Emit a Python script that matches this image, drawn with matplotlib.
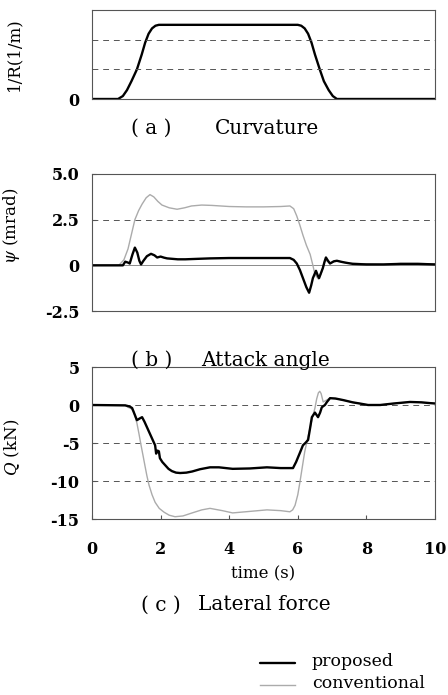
import matplotlib
matplotlib.use("Agg")
import matplotlib.pyplot as plt

plt.rcParams["axes.unicode_minus"] = False
plt.rcParams["mathtext.fontset"] = "dejavuserif"

# curvature of the curve section (1/R)
t_curv = [0, 0.76, 0.9, 1.02, 1.15, 1.31, 1.45, 1.55, 1.65, 1.75, 1.85, 1.95,
          6.0, 6.1, 6.2, 6.3, 6.4, 6.5, 6.64, 6.76, 6.9, 7.02, 7.14, 10]
curv = [0, 0, 0.1, 0.3, 0.6, 1.0, 1.5, 1.9, 2.2, 2.38, 2.47, 2.5,
        2.5, 2.47, 2.38, 2.2, 1.9, 1.5, 1.0, 0.6, 0.3, 0.1, 0, 0]

# attack angle psi (mrad)
t_psi_conv = [0, 0.78, 0.93, 1.05, 1.15, 1.25, 1.36, 1.46, 1.58, 1.69, 1.8, 1.92,
              2.04, 2.25, 2.48, 2.7, 2.9, 3.2, 3.5, 4.0, 4.5, 5.0, 5.5, 5.77,
              5.88, 5.97, 6.06, 6.15, 6.25, 6.36, 6.44, 6.5, 6.6, 6.67, 6.73,
              6.8, 6.87, 6.94, 7.05, 7.17, 7.3, 7.5, 8.0, 8.5, 9.0, 9.5, 10]
psi_conv = [0, 0, 0.3, 0.9, 1.7, 2.5, 3.0, 3.35, 3.7, 3.87, 3.75, 3.5,
            3.3, 3.15, 3.07, 3.15, 3.25, 3.3, 3.28, 3.22, 3.2, 3.2, 3.22, 3.25,
            3.1, 2.7, 2.2, 1.65, 1.1, 0.6, 0.0, -0.5, -0.75, -0.5, -0.15,
            0.3, 0.2, 0.1, 0.2, 0.25, 0.18, 0.12, 0.08, 0.05, 0.1, 0.1, 0.08]

t_psi_prop = [0, 0.9, 0.97, 1.05, 1.1, 1.18, 1.25, 1.32, 1.38, 1.43, 1.5, 1.6,
              1.72, 1.82, 1.9, 2.0, 2.1, 2.19, 2.5, 2.72, 3.0, 3.44, 4.0, 4.6,
              5.2, 5.77, 5.88, 5.97, 6.06, 6.15, 6.25, 6.33, 6.39, 6.44, 6.53,
              6.58, 6.62, 6.68, 6.73, 6.78, 6.82, 6.88, 6.94, 7.05, 7.14, 7.25,
              7.38, 7.6, 8.0, 8.5, 9.0, 9.5, 10]
psi_prop = [0, 0, 0.2, 0.15, 0.1, 0.6, 0.97, 0.7, 0.25, 0.05, 0.25, 0.5,
            0.63, 0.55, 0.43, 0.48, 0.42, 0.38, 0.33, 0.33, 0.35, 0.38, 0.4, 0.4,
            0.4, 0.4, 0.3, 0.1, -0.25, -0.7, -1.2, -1.5, -1.1, -0.7, -0.3,
            -0.55, -0.7, -0.4, -0.15, 0.2, 0.43, 0.25, 0.1, 0.22, 0.25, 0.2,
            0.15, 0.08, 0.05, 0.05, 0.08, 0.08, 0.05]

# lateral force Q (kN)
t_q_conv = [0, 0.97, 1.05, 1.15, 1.22, 1.31, 1.37, 1.43, 1.49, 1.54, 1.6, 1.66,
            1.75, 1.84, 1.96, 2.1, 2.25, 2.42, 2.65, 2.92, 3.2, 3.44, 3.8, 4.1,
            4.6, 5.1, 5.5, 5.77, 5.85, 5.92, 6.0, 6.06, 6.13, 6.2, 6.28, 6.36,
            6.43, 6.5, 6.55, 6.6, 6.64, 6.68, 6.74, 6.82, 6.94, 7.1, 7.32, 7.6,
            7.8, 8.05, 8.4, 8.8, 9.27, 9.6, 9.85, 10]
q_conv = [0, -0.05, -0.3, -0.5, -0.9, -2.4, -3.8, -5.3, -6.7, -7.9, -9.3, -10.5,
          -11.8, -12.8, -13.6, -14.1, -14.5, -14.7, -14.6, -14.2, -13.8, -13.6, -13.9, -14.2,
          -14.0, -13.8, -13.9, -14.05, -13.8, -13.2, -11.8, -10.2, -8.2, -6.2, -4.5, -3.0,
          -1.6, -0.4, 0.8, 1.6, 1.8, 1.5, 0.4, 0.6, 0.9, 0.85, 0.65, 0.35,
          0.2, 0.0, 0.0, 0.2, 0.4, 0.35, 0.25, 0.2]

t_q_prop = [0, 0.97, 1.1, 1.17, 1.24, 1.31, 1.38, 1.46, 1.53, 1.6, 1.68, 1.75,
            1.84, 1.87, 1.91, 1.95, 1.98, 2.05, 2.13, 2.23, 2.33, 2.45, 2.57, 2.75,
            2.92, 3.15, 3.44, 3.7, 4.1, 4.6, 5.1, 5.5, 5.86, 5.95, 6.06, 6.15,
            6.22, 6.3, 6.36, 6.41, 6.5, 6.59, 6.65, 6.7, 6.79, 6.85, 6.94, 7.1,
            7.32, 7.6, 7.8, 8.05, 8.4, 8.8, 9.27, 9.6, 9.85, 10]
q_prop = [0, -0.05, -0.2, -0.4, -1.2, -2.0, -1.8, -1.6, -2.2, -2.9, -3.7, -4.4,
          -5.3, -6.4, -6.0, -6.1, -7.0, -7.5, -7.9, -8.4, -8.7, -8.9, -8.95, -8.9,
          -8.75, -8.45, -8.2, -8.2, -8.4, -8.35, -8.2, -8.3, -8.3, -7.5, -6.3, -5.3,
          -5.0, -4.6, -3.0, -1.6, -1.0, -1.6, -1.0, -0.3, 0.0, 0.4, 0.9, 0.85,
          0.65, 0.35, 0.2, 0.0, 0.0, 0.2, 0.4, 0.35, 0.25, 0.2]

x_ticks = [0, 2, 4, 6, 8, 10]

W, H = 448, 695
FONT = "DejaVu Serif"
PROP = dict(color="black", lw=1.7, solid_capstyle="round")
CONV = dict(color="#ababab", lw=1.0)
GRID = dict(color="#555555", lw=0.7, dashes=(6, 5))
LABEL_X = (22 - 92) / 343


def px_axes(fig, left, top, right, bottom):
    return fig.add_axes([left / W, 1 - bottom / H, (right - left) / W, (bottom - top) / H])


def style(ax):
    for s in ax.spines.values():
        s.set_color("#555555")
        s.set_linewidth(0.8)
    ax.set_xlim(0, 10)
    ax.tick_params(direction="in", length=3, width=0.8, color="#555555",
                   labelsize=11.5, pad=9)
    for lab in ax.get_yticklabels() + ax.get_xticklabels():
        lab.set_fontfamily(FONT)
        lab.set_fontweight("semibold")


def ylabel(ax, text, y=0.5):
    ax.set_ylabel(text, family=FONT, fontsize=12)
    ax.yaxis.set_label_coords(LABEL_X, y)


def caption(fig, x_tag, x_title, y, tag, title):
    kw = dict(family=FONT, fontsize=14.5, va="center", ha="left")
    fig.text(x_tag / W, 1 - y / H, tag, **kw)
    fig.text(x_title / W, 1 - y / H, title, **kw)


fig = plt.figure(figsize=(W / 100, H / 100), dpi=100)

# (a) curvature
ax1 = px_axes(fig, 92, 10, 435, 99)
ax1.plot(t_curv, curv, **PROP)
for g in [1, 2]:
    ax1.axhline(g, **GRID)
ax1.set_ylim(0, 3)
ax1.set_xticks([])
ax1.set_yticks([0])
style(ax1)
ax1.tick_params(axis="y", length=0)
ylabel(ax1, "1/R(1/m)")

# (b) attack angle
ax2 = px_axes(fig, 92, 174, 435, 311)
ax2.axhline(0, color="#777777", lw=0.6)
ax2.axhline(2.5, **GRID)
ax2.plot(t_psi_conv, psi_conv, **CONV)
ax2.plot(t_psi_prop, psi_prop, **PROP)
ax2.set_ylim(-2.5, 5.0)
ax2.set_yticks([-2.5, 0, 2.5, 5.0])
ax2.set_yticklabels(["-2.5", "0", "2.5", "5.0"])
ax2.set_xticks([])
style(ax2)
ylabel(ax2, r"$\psi$ (mrad)", 0.62)

# (c) lateral force
ax3 = px_axes(fig, 92, 367, 435, 519)
for g in [0, -5, -10]:
    ax3.axhline(g, **GRID)
ax3.plot(t_q_conv, q_conv, **CONV)
ax3.plot(t_q_prop, q_prop, **PROP)
ax3.set_ylim(-15, 5)
ax3.set_yticks([5, 0, -5, -10, -15])
ax3.set_xticks(x_ticks)
style(ax3)
ax3.tick_params(axis="x", pad=16)
ylabel(ax3, r"$Q$ (kN)", 0.47)
ax3.set_xlabel("time (s)", family=FONT, fontsize=12, labelpad=5)

# panel captions
caption(fig, 131, 215, 128, "( a )", "Curvature")
caption(fig, 131, 201, 360, "( b )", "Attack angle")
caption(fig, 141, 198, 605, "( c )", "Lateral force")

# legend
fig.add_artist(plt.Line2D([260 / W, 295 / W], [1 - 663 / H] * 2, **PROP))
fig.add_artist(plt.Line2D([260 / W, 295 / W], [1 - 685 / H] * 2, **CONV))
fig.text(312 / W, 1 - 661 / H, "proposed", family=FONT, fontsize=12.5, va="center")
fig.text(312 / W, 1 - 683 / H, "conventional", family=FONT, fontsize=12.5, va="center")

fig.savefig("out.png", dpi=100)
